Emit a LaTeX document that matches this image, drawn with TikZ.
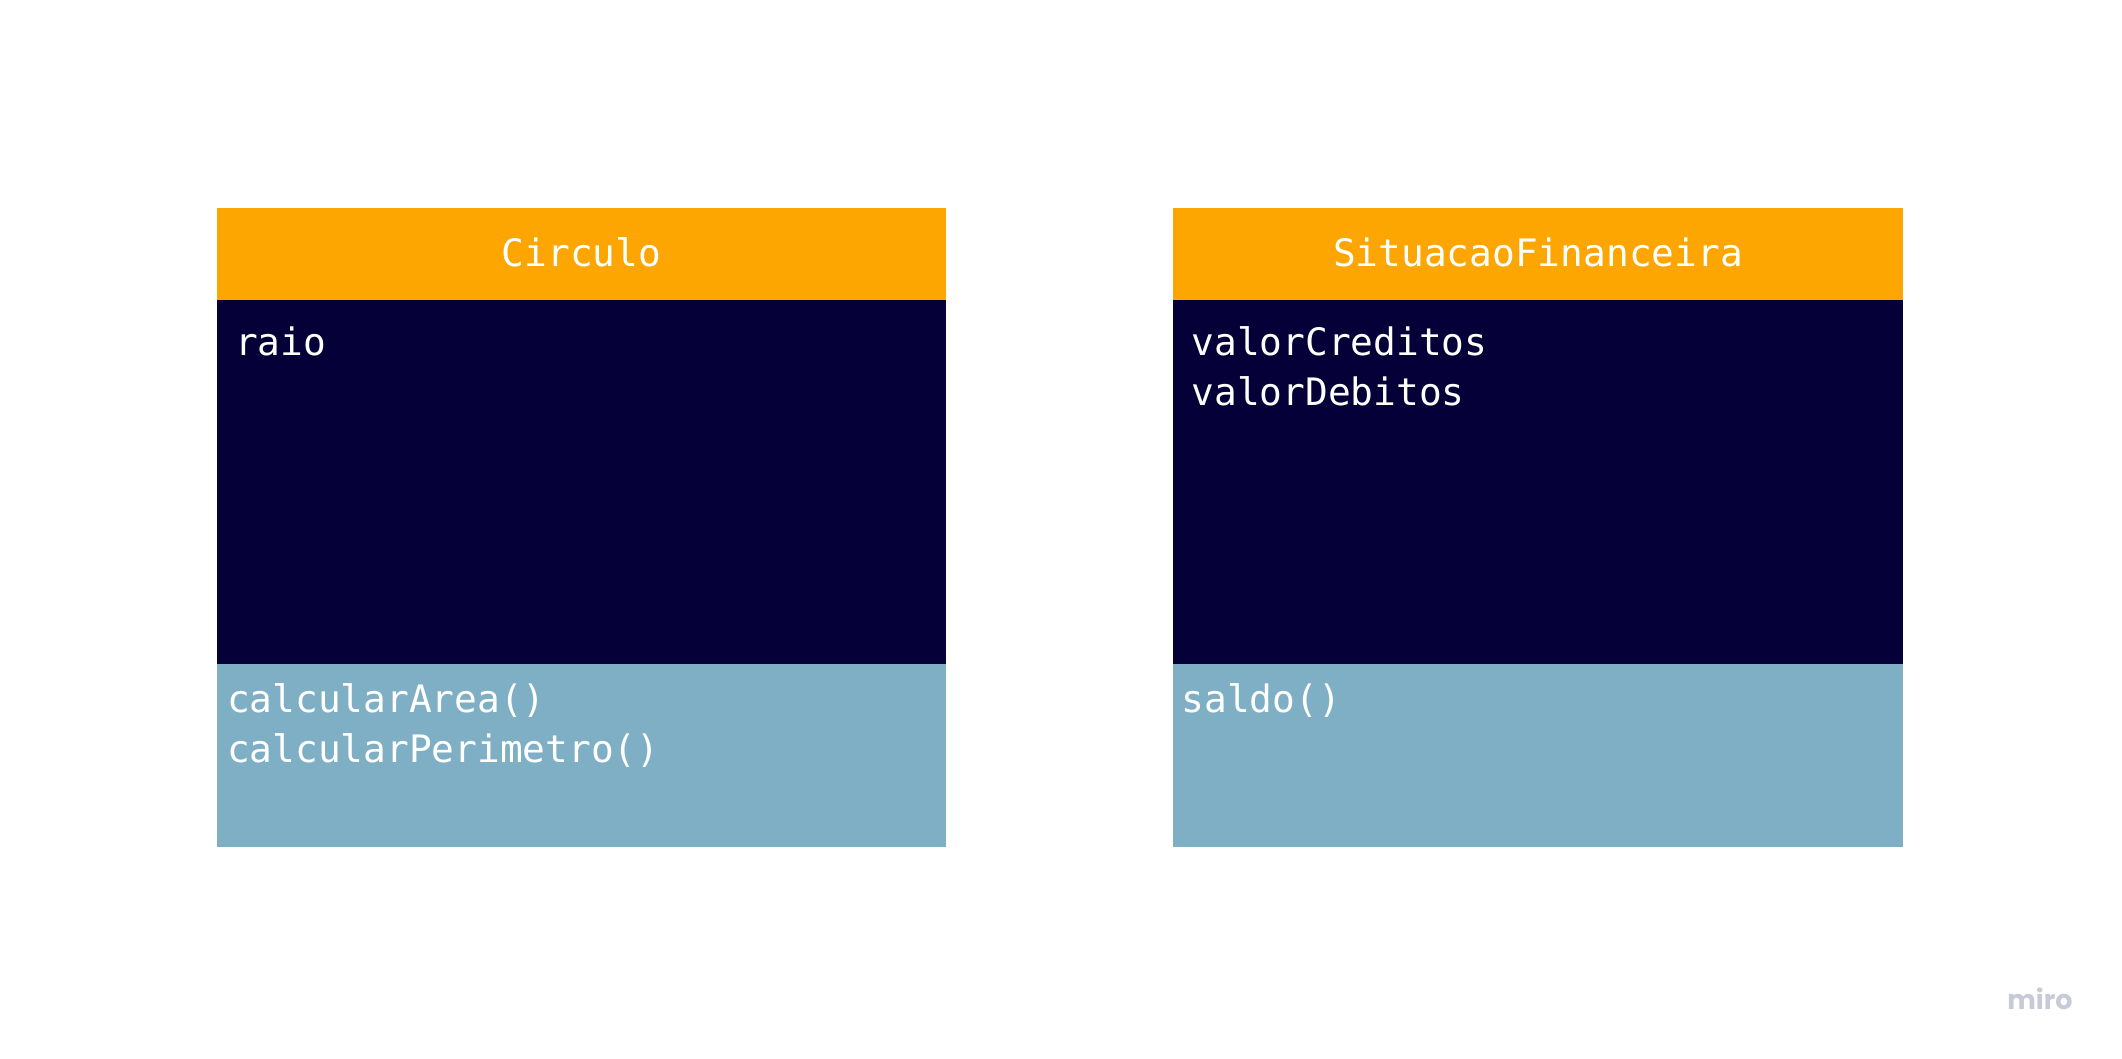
\documentclass[tikz,border=0pt]{standalone}
\usepackage{fontspec}
\setmonofont{DejaVu Sans Mono}
\newfontfamily\logofont{Poppins}
\definecolor{hdr}{HTML}{FDA500}
\definecolor{body}{HTML}{050038}
\definecolor{meth}{HTML}{7FAFC5}
\definecolor{logo}{HTML}{C9CAD9}
\tikzset{
  compartment/.style={inner sep=0pt, outer sep=0pt, draw=none},
  label/.style={inner sep=0pt, outer sep=0pt, text=white, font=\ttfamily\fontsize{18.9}{22}\selectfont},
}
\begin{document}
\begin{tikzpicture}[x=0.5pt,y=-0.5pt]
\useasboundingbox[fill=white] (0,0) rectangle (2122,1059);
% left class
\fill[hdr]  (217,208) rectangle (946,300) coordinate (lh);
\fill[body] (217,300) rectangle (946,664) coordinate (lb);
\fill[meth] (217,664) rectangle (946,847) coordinate (lm);
\node[label, anchor=base] (ln) at (581.5,267) {Circulo};
\node[label, anchor=base west] (la1) at (235,356) {raio};
\node[label, anchor=base west] (lm1) at (227,712.5) {calcularArea()};
\node[label, anchor=base west] (lm2) at (227,762.5) {calcularPerimetro()};
% right class
\fill[hdr]  (1173,208) rectangle (1903,300) coordinate (rh);
\fill[body] (1173,300) rectangle (1903,664) coordinate (rb);
\fill[meth] (1173,664) rectangle (1903,847) coordinate (rm);
\node[label, anchor=base] (rn) at (1538,267) {SituacaoFinanceira};
\node[label, anchor=base west] (ra1) at (1191.5,356) {valorCreditos};
\node[label, anchor=base west] (ra2) at (1191.5,406) {valorDebitos};
\node[label, anchor=base west] (rm1) at (1181.5,712.5) {saldo()};
% logo
\node[inner sep=0pt, anchor=base east, text=logo, font=\logofont\bfseries\fontsize{13.5}{16}\selectfont] (logo) at (2073,1009) {miro};
\end{tikzpicture}
\end{document}
